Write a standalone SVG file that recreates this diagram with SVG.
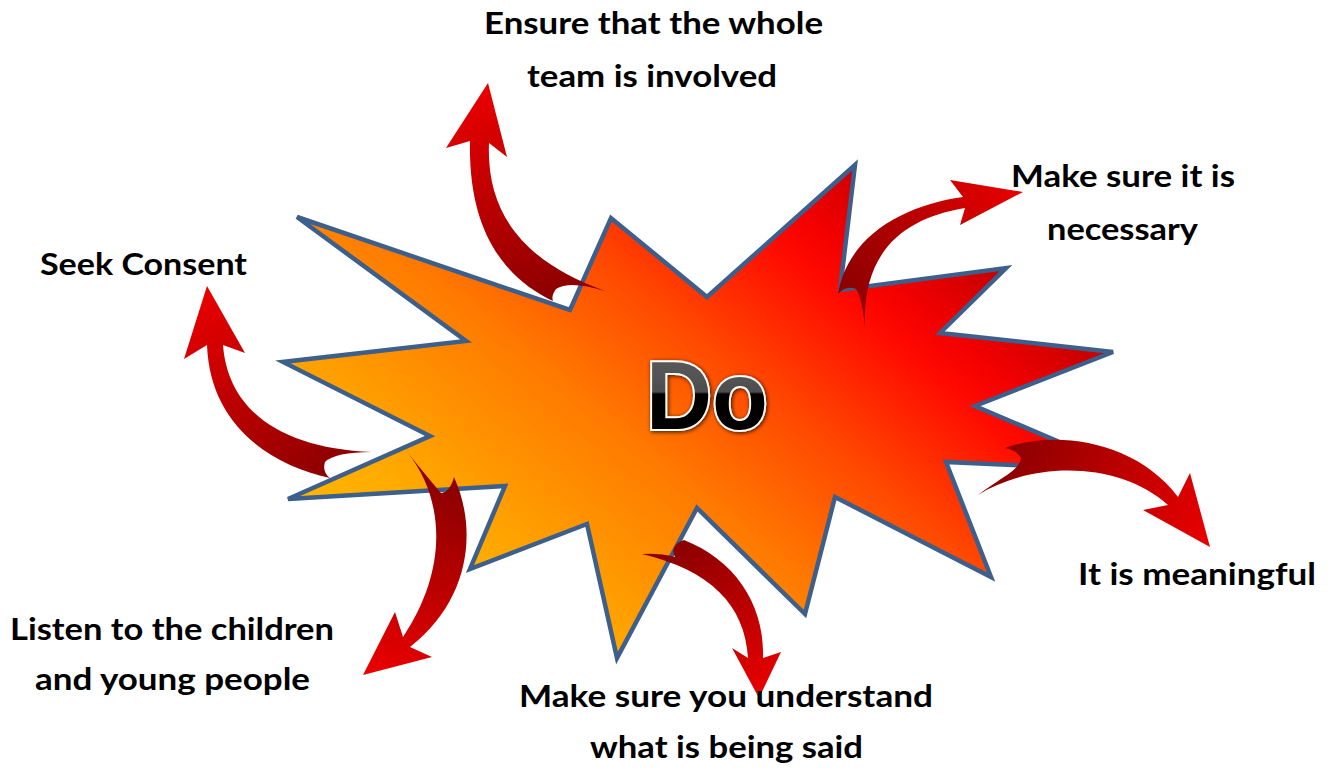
<svg xmlns="http://www.w3.org/2000/svg" xmlns:xlink="http://www.w3.org/1999/xlink" width="1333" height="769" viewBox="0 0 1333 769">
<defs>
<style>
.lbl{font-family:Lato,"Open Sans","Liberation Sans",sans-serif;font-weight:bold;font-size:31px;fill:#000}
.arr{stroke:none}
</style>
<linearGradient id="burst" gradientUnits="userSpaceOnUse" x1="380" y1="650" x2="830" y2="100">
<stop offset="0" stop-color="#FFC000"/>
<stop offset="0.2" stop-color="#FFAA00"/>
<stop offset="0.45" stop-color="#FF7A00"/>
<stop offset="0.62" stop-color="#FF4A00"/>
<stop offset="0.8" stop-color="#FF0800"/>
<stop offset="0.86" stop-color="#F00000"/>
<stop offset="1" stop-color="#B80000"/>
</linearGradient>
<linearGradient id="ag" gradientUnits="userSpaceOnUse">
<stop offset="0" stop-color="#8E0000"/>
<stop offset="1" stop-color="#E80000"/>
</linearGradient>
<linearGradient id="a1" href="#ag" xlink:href="#ag" x1="560" y1="290" x2="488" y2="90"/>
<linearGradient id="a2" href="#ag" xlink:href="#ag" x1="330" y1="470" x2="207" y2="290"/>
<linearGradient id="a3" href="#ag" xlink:href="#ag" x1="440" y1="485" x2="375" y2="670"/>
<linearGradient id="a4" href="#ag" xlink:href="#ag" x1="680" y1="550" x2="758" y2="695"/>
<linearGradient id="a5" href="#ag" xlink:href="#ag" x1="850" y1="295" x2="1020" y2="192"/>
<linearGradient id="a6" href="#ag" xlink:href="#ag" x1="1010" y1="455" x2="1205" y2="540"/>
<linearGradient id="dofill" gradientUnits="userSpaceOnUse" x1="0" y1="358" x2="0" y2="430">
<stop offset="0" stop-color="#5a5a5a"/>
<stop offset="0.47" stop-color="#4e4e4e"/>
<stop offset="0.5" stop-color="#000"/>
<stop offset="1" stop-color="#000"/>
</linearGradient>
<filter id="shadow" x="-20%" y="-20%" width="140%" height="140%">
<feGaussianBlur in="SourceAlpha" stdDeviation="2"/>
<feOffset dx="1" dy="1" result="b"/>
<feComponentTransfer><feFuncA type="linear" slope="0.8"/></feComponentTransfer>
<feMerge><feMergeNode/><feMergeNode in="SourceGraphic"/></feMerge>
</filter>
</defs>
<rect width="1333" height="769" fill="#fff"/>

<g id="node-do">
<polygon points="297,217 570,310 611,218 707,297 855,165 840,290 1006,268 940,333 1113,352 975,406 1125,470 946,462 991,577 835,497 805,614 697,508 617,658 587,524 470,569 505,486 288,499 430,436 283,362 466,341" fill="url(#burst)" stroke="#3D5F8C" stroke-width="4.5" stroke-linejoin="miter"/>
<text x="707" y="429" text-anchor="middle" font-family="'Liberation Sans',Arial,sans-serif" font-weight="bold" font-size="96" textLength="122" lengthAdjust="spacingAndGlyphs" fill="url(#dofill)" stroke="#fff" stroke-width="4" paint-order="stroke" filter="url(#shadow)">Do</text>
</g>

<g id="connectors">
<path class="arr" fill="url(#a1)" d="M 605 291 Q 570 280 556 289 Q 551 296 553 301 C 505 278 468 232 470 141 L 446 148 L 488 83 L 507 157 L 489 143 C 486 215 525 262 605 291 Z"/>
<path class="arr" fill="url(#a2)" d="M 372 452 Q 335 452 325 462 Q 322 472 330 478 C 270 465 210 425 207 345 L 184 359 L 207 286 L 245 353 L 223 345 C 228 410 280 448 372 452 Z"/>
<path class="arr" fill="url(#a3)" d="M 408 453 Q 428 478 441 493 Q 450 492 454 477 C 478 530 470 600 410 647 L 432 657 L 363 675 L 395 612 L 403 637 C 448 570 445 500 408 453 Z"/>
<path class="arr" fill="url(#a4)" d="M 642 554 Q 660 553 675 557 Q 669 545 684 540 C 735 560 765 605 763 658 L 781 652 L 759 698 L 732 648 L 748 658 C 745 605 710 570 642 554 Z"/>
<path class="arr" fill="url(#a5)" d="M 865 327 Q 862 298 856 289 Q 846 285 838 294 C 848 235 905 205 963 197 L 950 180 L 1023 192 L 960 225 L 965 208 C 905 218 862 250 865 327 Z"/>
<path class="arr" fill="url(#a6)" d="M 978 495 C 1000 478 1020 470 1021 458 Q 1016 450 1005 448 C 1055 430 1135 440 1178 497 L 1190 473 L 1210 547 L 1143 510 L 1168 505 C 1120 462 1035 460 978 495 Z"/>
</g>

<g id="node-team">
<text class="lbl" x="484" y="34" textLength="339" lengthAdjust="spacingAndGlyphs">Ensure that the whole</text>
<text class="lbl" x="527" y="87" textLength="250" lengthAdjust="spacingAndGlyphs">team is involved</text>
</g>
<g id="node-necessary">
<text class="lbl" x="1011" y="187" textLength="224" lengthAdjust="spacingAndGlyphs">Make sure it is</text>
<text class="lbl" x="1047" y="240" textLength="151" lengthAdjust="spacingAndGlyphs">necessary</text>
</g>
<g id="node-consent">
<text class="lbl" x="40" y="275" textLength="207" lengthAdjust="spacingAndGlyphs">Seek Consent</text>
</g>
<g id="node-meaningful">
<text class="lbl" x="1078" y="585" textLength="238" lengthAdjust="spacingAndGlyphs">It is meaningful</text>
</g>
<g id="node-listen">
<text class="lbl" x="10" y="640" textLength="324" lengthAdjust="spacingAndGlyphs">Listen to the children</text>
<text class="lbl" x="35" y="690" textLength="275" lengthAdjust="spacingAndGlyphs">and young people</text>
</g>
<g id="node-understand">
<text class="lbl" x="519" y="707" textLength="414" lengthAdjust="spacingAndGlyphs">Make sure you understand</text>
<text class="lbl" x="590" y="758" textLength="273" lengthAdjust="spacingAndGlyphs">what is being said</text>
</g>
</svg>
